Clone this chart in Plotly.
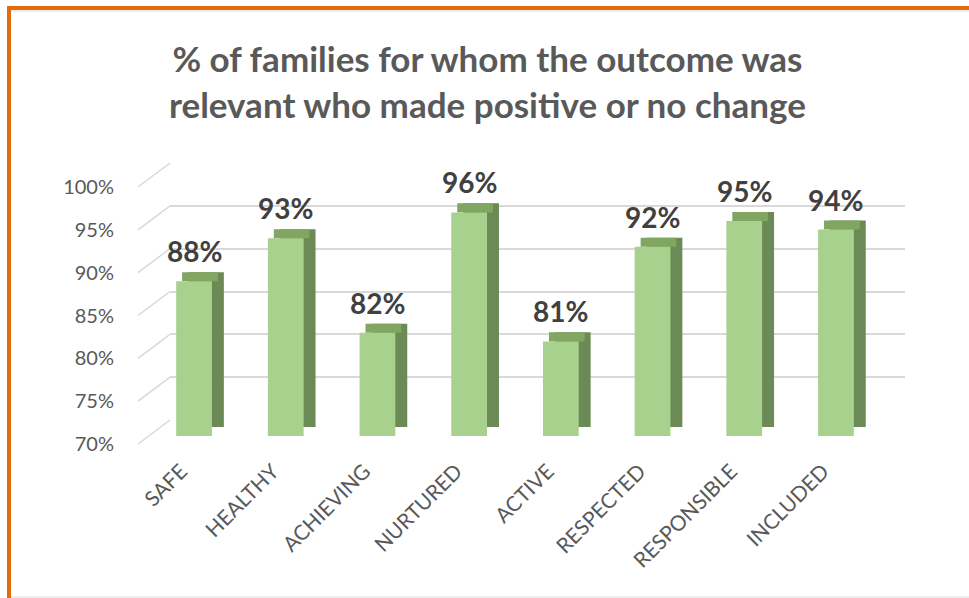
import plotly.graph_objects as go

# ---------------- data ----------------
categories = ["SAFE", "HEALTHY", "ACHIEVING", "NURTURED", "ACTIVE",
              "RESPECTED", "RESPONSIBLE", "INCLUDED"]
values = [88, 93, 82, 96, 81, 92, 95, 94]
tick_vals = [70, 75, 80, 85, 90, 95, 100]
tick_text = ["70%", "75%", "80%", "85%", "90%", "95%", "100%"]
title_text = "% of families for whom the outcome was<br>relevant who made positive or no change"

# ---------------- geometry / style ----------------
W, H = 969, 598
FONT = "Lato"
TXT = "#595959"
FRONT = "#A9D18E"
TOPC = "#80A662"
SIDE = "#6B8A55"
GRID = "#D9D9D9"
ORANGE = "#E46C0A"
YMIN, YMAX = 70, 100


def fx(px):
    return px / W


def fy(px):
    return 1 - px / H


BAR_W = 0.39        # front face width (category units)
DEPTH_X = 0.13      # side face depth (category units)
DEPTH_Y = 1.05      # top face depth (value units)

# pixel anchors
GRID_Y0, GRID_Y1 = 420, 163      # back wall 70% / 100%
FRONT_Y0, FRONT_Y1 = 444, 187    # front edge 70% / 100%
BAR_Y0, BAR_Y1 = 436, 178        # bar scale 70% / 100%
WALL_X_FRONT, WALL_X_BACK, WALL_X_END = 138, 170, 905

fig = go.Figure()

# back-wall grid subplot (x / y) -- first so it is drawn underneath
fig.add_trace(go.Scatter(x=[0], y=[YMIN], mode="markers", marker=dict(opacity=0),
                         hoverinfo="skip", showlegend=False, xaxis="x", yaxis="y"))
# front labels subplot (x2 / y2)
fig.add_trace(go.Scatter(x=[0], y=[YMIN], mode="markers", marker=dict(opacity=0),
                         hoverinfo="skip", showlegend=False, xaxis="x2", yaxis="y2"))

# bars (x3 / y3): side face, top face, front face
fig.add_trace(go.Bar(x=categories, y=[v - YMIN for v in values], base=YMIN + DEPTH_Y,
                     width=BAR_W, offset=-BAR_W / 2 + DEPTH_X,
                     marker=dict(color=SIDE, line=dict(width=0)),
                     hoverinfo="skip", showlegend=False, xaxis="x3", yaxis="y3"))
fig.add_trace(go.Bar(x=categories, y=[DEPTH_Y] * len(values), base=values,
                     width=BAR_W, offset=-BAR_W / 2 + DEPTH_X / 2,
                     marker=dict(color=TOPC, line=dict(width=0)),
                     hoverinfo="skip", showlegend=False, xaxis="x3", yaxis="y3"))
fig.add_trace(go.Bar(x=categories, y=[v - YMIN for v in values], base=YMIN,
                     width=BAR_W, offset=-BAR_W / 2,
                     marker=dict(color=FRONT, line=dict(width=0)),
                     showlegend=False, xaxis="x3", yaxis="y3"))

# data labels
annotations = []
for c, v in zip(categories, values):
    annotations.append(dict(x=c, y=v, xref="x3", yref="y3", text=f"{v}%",
                            showarrow=False, yshift=30, yanchor="middle",
                            font=dict(family=FONT, size=28, color="#404040", weight="bold")))

# wall diagonals + frame
shapes = []
ppp_front = (FRONT_Y0 - FRONT_Y1) / (YMAX - YMIN)
ppp_grid = (GRID_Y0 - GRID_Y1) / (YMAX - YMIN)
for t in tick_vals:
    yf = FRONT_Y0 - (t - YMIN) * ppp_front
    yb = GRID_Y0 - (t - YMIN) * ppp_grid
    shapes.append(dict(type="line", xref="paper", yref="paper",
                       x0=fx(WALL_X_FRONT), y0=fy(yf), x1=fx(WALL_X_BACK), y1=fy(yb),
                       line=dict(color=GRID, width=1.5), layer="below"))
# orange frame (top + left) and faint bottom edge
shapes.append(dict(type="line", xref="paper", yref="paper", x0=fx(7), x1=1,
                   y0=fy(8), y1=fy(8), line=dict(color=ORANGE, width=4)))
shapes.append(dict(type="line", xref="paper", yref="paper", x0=fx(9), x1=fx(9),
                   y0=fy(6), y1=0, line=dict(color=ORANGE, width=4)))
shapes.append(dict(type="line", xref="paper", yref="paper", x0=fx(11), x1=1,
                   y0=fy(11), y1=fy(11), line=dict(color="#E6E6E6", width=1.5)))
shapes.append(dict(type="line", xref="paper", yref="paper", x0=fx(11), x1=1,
                   y0=fy(597), y1=fy(597), line=dict(color="#E8E8E8", width=1.5)))

fig.update_layout(
    width=W, height=H,
    margin=dict(l=0, r=0, t=0, b=0, autoexpand=False),
    paper_bgcolor="white", plot_bgcolor="rgba(0,0,0,0)",
    barmode="overlay",
    font=dict(family=FONT, color=TXT),
    title=dict(text=title_text, x=0.503, xanchor="center", y=fy(72), yanchor="middle",
               font=dict(family=FONT, size=35, color=TXT, weight="bold")),
    # back wall grid
    xaxis=dict(domain=[fx(WALL_X_BACK), fx(WALL_X_END)], range=[0, 1], visible=False,
               fixedrange=True),
    yaxis=dict(domain=[fy(GRID_Y0), fy(GRID_Y1)], range=[YMIN, YMAX], tickvals=tick_vals,
               showgrid=True, gridcolor=GRID, gridwidth=1.5, showticklabels=False,
               zeroline=False, showline=False, ticks="", fixedrange=True),
    # front tick labels
    xaxis2=dict(domain=[fx(115), fx(125)], range=[0, 1], visible=False, fixedrange=True),
    yaxis2=dict(domain=[fy(FRONT_Y0), fy(FRONT_Y1)], range=[YMIN, YMAX],
                anchor="x2", tickvals=tick_vals, ticktext=tick_text, showgrid=False,
                zeroline=False, showline=False, ticks="",
                tickfont=dict(family=FONT, size=20, color=TXT), fixedrange=True),
    # bars
    xaxis3=dict(domain=[fx(148.2), fx(881.8)], range=[-0.5, 7.5], anchor="y3",
                type="category", tickangle=-45, ticks="", showline=False, showgrid=False,
                tickfont=dict(family=FONT, size=21, color=TXT),
                ticklabelstandoff=18, ticklabelshift=-13, fixedrange=True),
    yaxis3=dict(domain=[fy(BAR_Y0), fy(BAR_Y1)], range=[YMIN, YMAX], anchor="x3",
                showgrid=False, showticklabels=False, zeroline=False, showline=False,
                ticks="", fixedrange=True),
    annotations=annotations,
    shapes=shapes,
)

fig.write_html("out.html", config={"displayModeBar": False},
               post_script="document.body.style.margin='0';")
